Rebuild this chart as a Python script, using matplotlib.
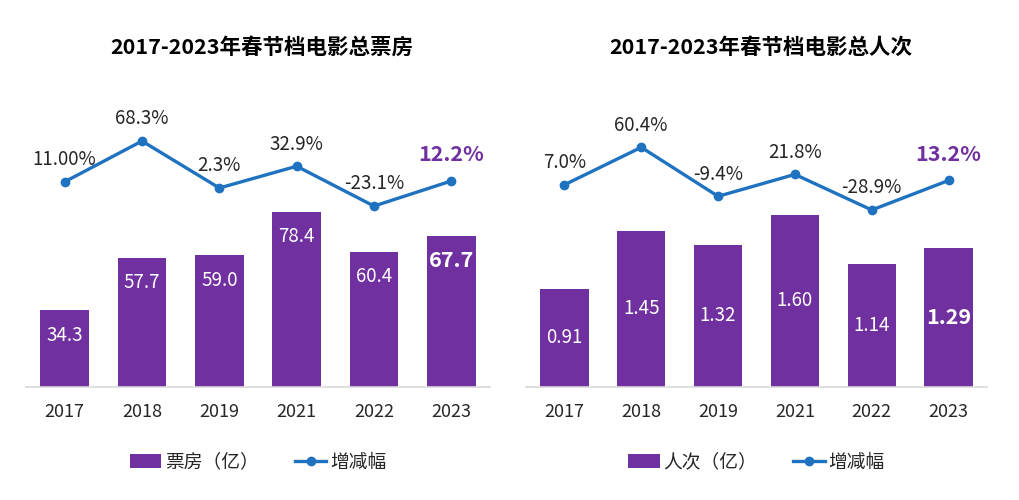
import numpy as np
import matplotlib
matplotlib.use('Agg')
import matplotlib.pyplot as plt

plt.rcParams['font.family'] = ['Noto Sans CJK SC', 'DejaVu Sans']
plt.rcParams['axes.unicode_minus'] = False

# 数据
years = ['2017', '2018', '2019', '2021', '2022', '2023']
box_office = [34.3, 57.7, 59.0, 78.4, 60.4, 67.7]
box_growth = [11.0, 68.3, 2.3, 32.9, -23.1, 12.2]
box_growth_labels = ['11.00%', '68.3%', '2.3%', '32.9%', '-23.1%', '12.2%']
admissions = [0.91, 1.45, 1.32, 1.60, 1.14, 1.29]
adm_growth = [7.0, 60.4, -9.4, 21.8, -28.9, 13.2]
adm_growth_labels = ['7.0%', '60.4%', '-9.4%', '21.8%', '-28.9%', '13.2%']
bar_labels_left = ['34.3', '57.7', '59.0', '78.4', '60.4', '67.7']
bar_labels_right = ['0.91', '1.45', '1.32', '1.60', '1.14', '1.29']

PURPLE = '#7030A0'
BLUE = '#1F72C0'
TEXT = '#262626'
FS = 13.5

fig = plt.figure(figsize=(10.19, 5.0), dpi=100)


def draw_panel(rect, title, bars, bar_txt, bar_lim, inside_end,
               growth, growth_txt, g_lim, bar_name):
    ax = fig.add_axes(rect)
    x = np.arange(len(years))
    ax.bar(x, bars, width=0.63, color=PURPLE, label=bar_name, zorder=2)
    ax.set_xlim(-0.5, len(years) - 0.5)
    ax.set_ylim(*bar_lim)
    ax.set_xticks(x)
    ax.set_xticklabels(years, fontsize=13, color=TEXT)
    ax.tick_params(axis='x', length=0, pad=12)
    ax.set_yticks([])
    for s in ['top', 'left', 'right']:
        ax.spines[s].set_visible(False)
    ax.spines['bottom'].set_color('#D9D9D9')
    ax.spines['bottom'].set_linewidth(1.2)

    # 柱内标签
    for i, (v, t) in enumerate(zip(bars, bar_txt)):
        last = i == len(bars) - 1
        kw = dict(ha='center', va='center', color='white',
                  fontsize=15.5 if last else FS,
                  fontweight='bold' if last else 'normal')
        if inside_end:
            ax.annotate(t, xy=(i, v), xytext=(0, -18), textcoords='offset points', **kw)
        else:
            ax.annotate(t, xy=(i, v / 2), **kw)

    # 增减幅折线（次坐标轴）
    ax2 = ax.twinx()
    ax2.plot(x, growth, color=BLUE, lw=2.4, marker='o', markersize=6,
             label='增减幅', zorder=3)
    ax2.set_ylim(*g_lim)
    ax2.set_yticks([])
    for s in ax2.spines.values():
        s.set_visible(False)
    for i, (v, t) in enumerate(zip(growth, growth_txt)):
        last = i == len(growth) - 1
        ax2.annotate(t, xy=(i, v), xytext=(0, 16 if not last else 19),
                     textcoords='offset points', ha='center', va='center',
                     color=PURPLE if last else TEXT,
                     fontsize=15.5 if last else FS,
                     fontweight='bold' if last else 'normal')

    cx = rect[0] + rect[2] / 2
    fig.text(cx + 4 / 1019, 1 - 47 / 500, title, ha='center', va='center',
             fontsize=15.5, fontweight='bold', color='black')

    h1, l1 = ax.get_legend_handles_labels()
    h2, l2 = ax2.get_legend_handles_labels()
    ax.legend(h1 + h2, l1 + l2, loc='center', ncol=2, frameon=False,
              bbox_to_anchor=(0.5, -(462 - 386.7) / 286.7), fontsize=FS,
              handlelength=1.7, handleheight=0.8, columnspacing=1.9,
              handletextpad=0.2, labelcolor=TEXT)
    return ax


bottom = 1 - 386.7 / 500
height = 286.7 / 500
draw_panel([26 / 1019, bottom, 464 / 1019, height], '2017-2023年春节档电影总票房',
           box_office, bar_labels_left, (0, 128.5), True,
           box_growth, box_growth_labels, (-277, 126), '票房（亿）')
draw_panel([526 / 1019, bottom, 461 / 1019, height], '2017-2023年春节档电影总人次',
           admissions, bar_labels_right, (0, 2.672), False,
           adm_growth, adm_growth_labels, (-280.6, 127.8), '人次（亿）')

fig.savefig('out.png', dpi=100, facecolor='white')
